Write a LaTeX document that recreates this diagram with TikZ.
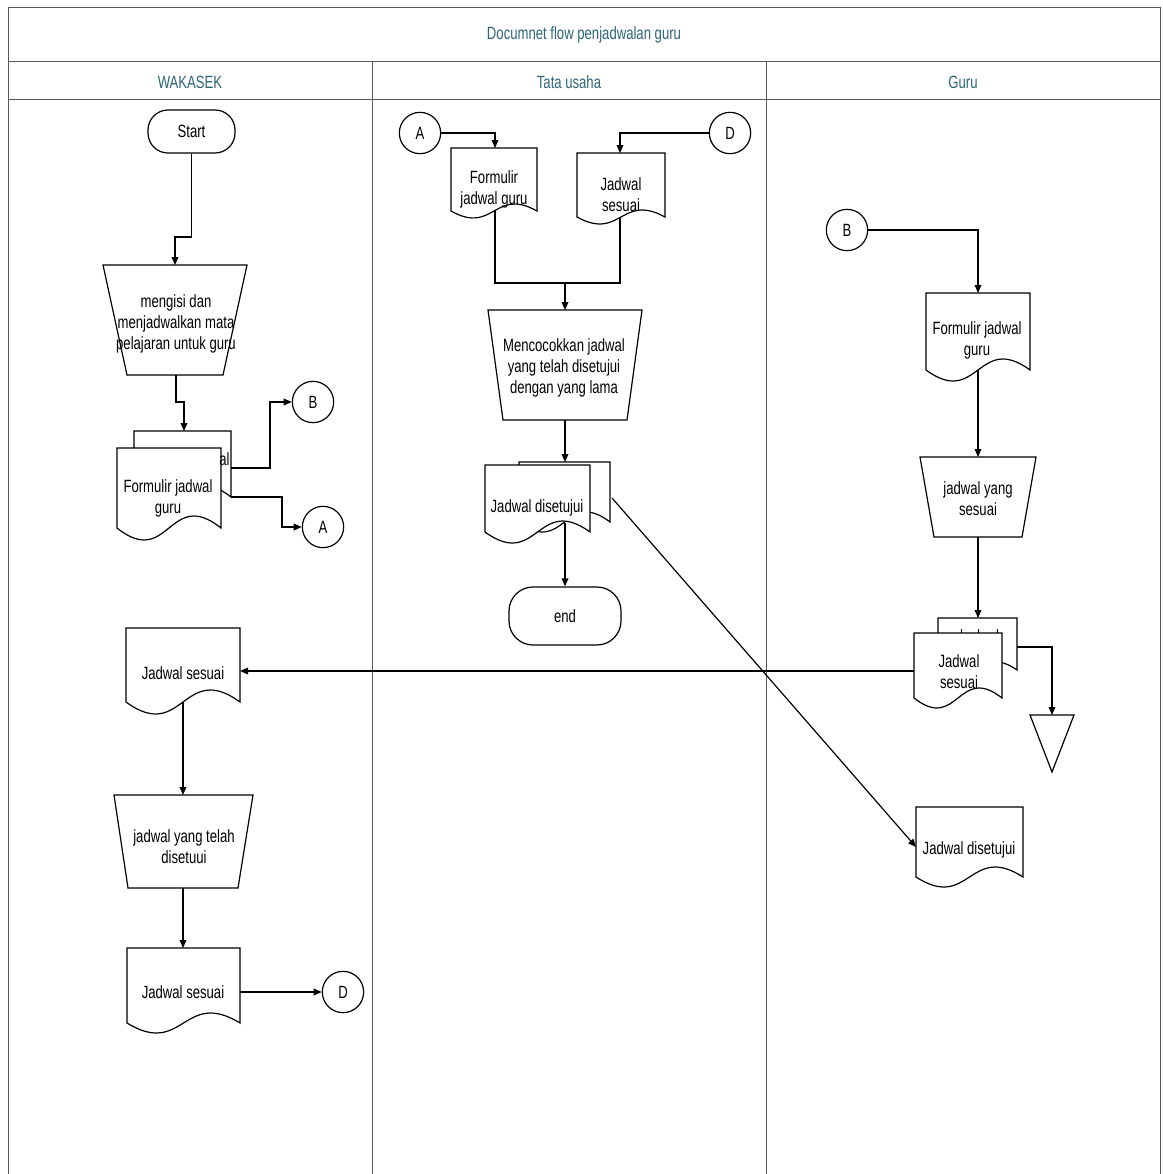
\documentclass[tikz,border=0pt]{standalone}
\usepackage{fontspec}
\setmainfont{Liberation Sans}[FakeStretch=0.74]
\usetikzlibrary{arrows.meta}
\definecolor{headblue}{RGB}{45,100,120}
\tikzset{
  shp/.style={draw=black,line width=0.9pt,fill=white},
  lbl/.style={align=center,inner sep=0pt,font=\fontsize{13.3}{15.8}\selectfont},
  hdr/.style={lbl,text=headblue},
  conn/.style={draw=black,line width=0.9pt},
  arr/.style={conn,-{Triangle[length=6pt,width=5pt]}},
  frameline/.style={draw=black!65,line width=0.6pt},
  circ/.style={shp,circle,minimum size=31pt,inner sep=0pt,font=\fontsize{13.3}{15.8}\selectfont},
  term/.style={shp,inner sep=0pt,font=\fontsize{13.3}{15.8}\selectfont}
}
\newcommand{\docshp}[5]{%
  \draw[shp] (#1,#2) -- (#3,#2) -- (#3,#4)
    .. controls ({(#1+#3)/2},{#4-3.46*#5}) and ({(#1+#3)/2},{#4+3.46*#5}) .. (#1,#4) -- cycle;}
\newcommand{\trapshp}[6]{%
  \draw[shp] (#1,#3) -- (#2,#3) -- (#5,#6) -- (#4,#6) -- cycle;}
\begin{document}
\begin{tikzpicture}[x=0.75pt,y=-0.75pt]
\useasboundingbox (0,0) rectangle (1163,1174);
% frame
\draw[frameline] (8,1174) -- (8,7) -- (1160,7) -- (1160,1174);
\draw[frameline] (8,61) -- (1160,61);
\draw[frameline] (8,99) -- (1160,99);
\draw[frameline] (372,61) -- (372,1174);
\draw[frameline] (766,61) -- (766,1174);
\node[hdr] (ttl) at (584,35) {Documnet flow penjadwalan guru};
\node[hdr] (h1) at (190,82) {WAKASEK};
\node[hdr] (h2) at (569,82) {Tata usaha};
\node[hdr] (h3) at (963,82) {Guru};

% ===== WAKASEK =====
\node[term,rounded corners=15pt,minimum width=65.25pt,minimum height=32.25pt] (start) at (191.5,131.5) {Start};
\trapshp{103}{247}{265}{127}{223}{375}
\node[lbl] (t1) at (176,324) {mengisi dan\\menjadwalkan mata\\pelajaran untuk guru};
\coordinate (t1n) at (175,265);
\coordinate (t1s) at (176,375);
% multi document 1
\docshp{134}{431}{231}{497}{11}
\docshp{117}{448}{221}{528}{12}
\node[lbl,anchor=west] (md1b) at (219,459) {al};
\node[lbl] (md1) at (168,498) {Formulir jadwal\\guru};
\coordinate (md1n) at (184,431);
\coordinate (md1e1) at (231,468);
\coordinate (md1e2) at (231,497);
\node[circ] (cB1) at (313,402) {B};
\node[circ] (cA1) at (323,527) {A};
% lower WAKASEK
\docshp{126}{628}{240}{702}{12}
\node[lbl] (wd1) at (183,673) {Jadwal sesuai};
\coordinate (wd1e) at (240,671);
\coordinate (wd1s) at (183,702);
\trapshp{114}{253}{795}{128}{238}{888}
\node[lbl] (t2) at (184,847) {jadwal yang telah\\disetuui};
\coordinate (t2n) at (183,795);
\coordinate (t2s) at (183,888);
\docshp{127}{948}{240}{1023}{10}
\node[lbl] (wd2) at (183,992) {Jadwal sesuai};
\coordinate (wd2n) at (183,948);
\coordinate (wd2e) at (240,992);
\node[circ] (cD1) at (343,992) {D};

% ===== Tata usaha =====
\node[circ] (cA2) at (420,133) {A};
\node[circ] (cD2) at (730,133) {D};
\docshp{451}{148}{537}{211}{7}
\node[lbl] (td1) at (494,189) {Formulir\\jadwal guru};
\coordinate (td1n) at (495,148);
\coordinate (td1s) at (495,211);
\docshp{577}{153}{665}{217}{7}
\node[lbl] (td2) at (621,195) {Jadwal\\sesuai};
\coordinate (td2n) at (620,153);
\coordinate (td2s) at (620,217);
\coordinate (mrg) at (565,283);
\trapshp{488}{642}{310}{503}{627}{420}
\node[lbl] (t3) at (564,368) {Mencocokkan jadwal\\yang telah disetujui\\dengan yang lama};
\coordinate (t3n) at (565,310);
\coordinate (t3s) at (565,420);
\docshp{519}{462}{610}{522}{10}
\docshp{485}{465}{590}{532}{11}
\node[lbl] (md2) at (537,508) {Jadwal disetujui};
\coordinate (md2n) at (565,462);
\coordinate (md2s) at (565,523);
\coordinate (md2e) at (612,498);
\node[term,rounded corners=18pt,minimum width=84pt,minimum height=43.5pt] (endt) at (565,616) {end};

% ===== Guru =====
\node[circ] (cB2) at (847,230) {B};
\docshp{926}{293}{1030}{370}{11}
\node[lbl] (gd1) at (977,340) {Formulir jadwal\\guru};
\coordinate (gd1n) at (978,293);
\coordinate (gd1s) at (978,370);
\trapshp{920}{1036}{457}{934}{1022}{537}
\node[lbl] (t4) at (978,499) {jadwal yang\\sesuai};
\coordinate (t4n) at (978,457);
\coordinate (t4s) at (978,537);
\docshp{938}{618}{1017}{670}{8}
\docshp{914}{633}{1002}{698}{10}
\draw[line width=0.6pt] (961,629) -- (961,633) (978,629) -- (978,633) (997,629) -- (997,633);
\node[lbl] (gmd) at (959,672) {Jadwal\\sesuai};
\coordinate (gmdn) at (978,618);
\coordinate (gmde) at (1017,647);
\coordinate (gfl) at (914,671);
\draw[shp] (1030,715) coordinate (tri1) -- (1074,715) -- (1052,772) -- cycle;
\coordinate (trin) at (1052,715);
\docshp{916}{807}{1023}{877}{10}
\node[lbl] (gd2) at (969,850) {Jadwal disetujui};
\coordinate (gd2w) at (916,847);

% ===== connectors =====
\draw[arr] (start.south) -- (191.5,237) -- (175,237) -- (t1n);
\draw[arr] (t1s) -- (176,402) -- (184,402) -- (md1n);
\draw[arr] (md1e1) -- (270,468) -- (270,402) -- (cB1.west);
\draw[arr] (md1e2) -- (282,497) |- (cA1.west);
\draw[arr] (gfl) -- (wd1e);
\draw[arr] (wd1s) -- (t2n);
\draw[arr] (t2s) -- (wd2n);
\draw[arr] (wd2e) -- (cD1.west);
\draw[arr] (cA2.east) -- (495,133) -- (td1n);
\draw[arr] (cD2.west) -- (620,133) -- (td2n);
\draw[conn] (td1s) -- (495,283) -- (620,283) -- (td2s);
\draw[arr] (mrg) -- (t3n);
\draw[arr] (t3s) -- (md2n);
\draw[arr] (md2s) -- (endt.north);
\draw[arr] (md2e) -- (gd2w);
\draw[arr] (cB2.east) -- (978,230) -- (gd1n);
\draw[arr] (gd1s) -- (t4n);
\draw[arr] (t4s) -- (gmdn);
\draw[arr] (gmde) -- (1052,647) -- (trin);
\end{tikzpicture}
\end{document}
